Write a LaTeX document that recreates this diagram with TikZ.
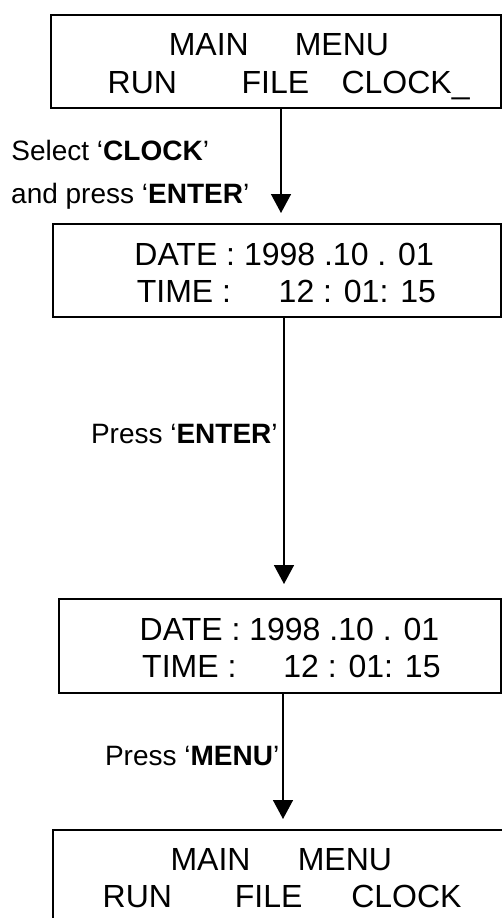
\documentclass[tikz,border=0pt]{standalone}
\usepackage{fontspec}
\setmainfont{Liberation Sans}
\usetikzlibrary{arrows.meta}
\tikzset{
  lcdbox/.style={draw, line width=1.6pt, anchor=north west,
    inner sep=0pt, outer sep=0pt},
  lcdtext/.style={anchor=base west, inner sep=0pt,
    font=\fontsize{32}{37.5}\selectfont},
  steplabel/.style={anchor=base west, inner sep=0pt,
    font=\fontsize{28}{43}\selectfont},
  arr/.style={-{Triangle[length=19pt, width=20pt]}, line width=1.5pt},
}

\begin{document}
\begin{tikzpicture}[x=1pt, y=-1pt]
  \useasboundingbox (0,0) rectangle (502,918);

  % Screen 1: main menu, cursor on CLOCK
  \node[lcdbox, minimum width=450pt, minimum height=93pt] (menu1) at (51,15) {};
  \node[lcdtext] (menu1title) at (168.6,55) {MAIN\hspace{46pt}MENU};
  \node[lcdtext] (menu1items) at (107.5,93)
    {RUN\hspace{64.6pt}FILE\hspace{32.4pt}CLOCK\_};

  % Screen 2: date and time
  \node[lcdbox, minimum width=448pt, minimum height=93pt] (clock1) at (53,224) {};
  \node[lcdtext] (clock1date) at (134.2,265.5) {DATE : 1998 .10 . 01};
  \node[lcdtext] (clock1time) at (136.6,302.5) {TIME :\hspace{47.7pt}12 : 01: 15};

  % Screen 3: date and time again
  \node[lcdbox, minimum width=442pt, minimum height=94pt] (clock2) at (59,599) {};
  \node[lcdtext] (clock2date) at (139.5,640) {DATE : 1998 .10 . 01};
  \node[lcdtext] (clock2time) at (142,677) {TIME :\hspace{47pt}12 : 01: 15};

  % Screen 4: back to main menu
  \node[lcdbox, minimum width=455pt, minimum height=94pt] (menu2) at (53,830) {};
  \node[lcdtext] (menu2title) at (170.3,870) {MAIN\hspace{47.3pt}MENU};
  \node[lcdtext] (menu2items) at (102.5,907)
    {RUN\hspace{62.9pt}FILE\hspace{48.8pt}CLOCK};

  % Arrows
  \coordinate (tip1) at (281,213);
  \coordinate (tip2) at (284,584);
  \coordinate (tip3) at (283,819);
  \draw[arr] (menu1.south -| tip1) -- (tip1);
  \draw[arr] (clock1.south -| tip2) -- (tip2);
  \draw[arr] (clock2.south -| tip3) -- (tip3);

  % Key presses
  \node[steplabel] (selectclock) at (11.2,160.5) {Select `\textbf{CLOCK}'};
  \node[steplabel] (pressenter1) at (11,203.3) {and press `\textbf{ENTER}'};
  \node[steplabel] (pressenter2) at (90.8,443) {Press `\textbf{ENTER}'};
  \node[steplabel] (pressmenu) at (104.8,765) {Press `\textbf{MENU}'};
\end{tikzpicture}
\end{document}
